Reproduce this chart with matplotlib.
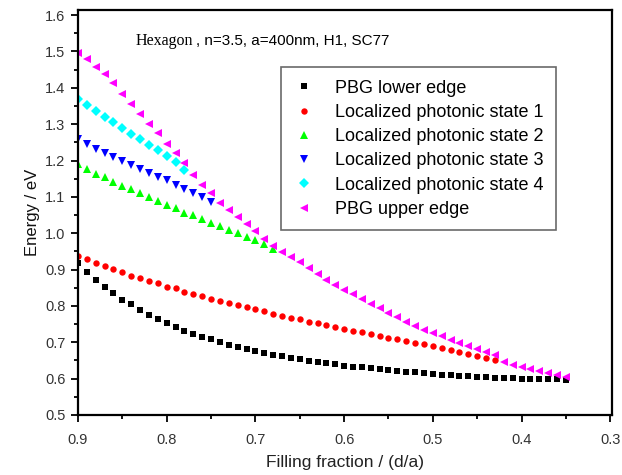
import matplotlib
matplotlib.use('Agg')
import matplotlib.pyplot as plt
from matplotlib.ticker import MultipleLocator, FormatStrFormatter

# Filling fraction d/a (0.01 steps)
filling = [0.90, 0.89, 0.88, 0.87, 0.86, 0.85, 0.84, 0.83, 0.82, 0.81,
           0.80, 0.79, 0.78, 0.77, 0.76, 0.75, 0.74, 0.73, 0.72, 0.71,
           0.70, 0.69, 0.68, 0.67, 0.66, 0.65, 0.64, 0.63, 0.62, 0.61,
           0.60, 0.59, 0.58, 0.57, 0.56, 0.55, 0.54, 0.53, 0.52, 0.51,
           0.50, 0.49, 0.48, 0.47, 0.46, 0.45, 0.44, 0.43, 0.42, 0.41,
           0.40, 0.39, 0.38, 0.37, 0.36, 0.35]

# Energy values (eV)
pbg_lower = [0.918, 0.892, 0.871, 0.853, 0.835, 0.817, 0.804, 0.788, 0.774, 0.763,
             0.752, 0.741, 0.732, 0.724, 0.715, 0.708, 0.700, 0.693, 0.688, 0.681,
             0.675, 0.670, 0.666, 0.662, 0.658, 0.654, 0.649, 0.645, 0.642, 0.639,
             0.636, 0.633, 0.631, 0.628, 0.626, 0.623, 0.621, 0.619, 0.617, 0.615,
             0.613, 0.611, 0.610, 0.608, 0.607, 0.605, 0.604, 0.603, 0.602, 0.601,
             0.600, 0.599, 0.599, 0.598, 0.598, 0.597]

state1 = [0.937, 0.929, 0.917, 0.910, 0.901, 0.892, 0.883, 0.876, 0.869, 0.862,
          0.853, 0.848, 0.839, 0.833, 0.827, 0.820, 0.813, 0.807, 0.802, 0.796,
          0.791, 0.785, 0.779, 0.773, 0.768, 0.763, 0.757, 0.753, 0.747, 0.742,
          0.737, 0.732, 0.727, 0.722, 0.717, 0.713, 0.708, 0.703, 0.698, 0.694,
          0.690, 0.684, 0.679, 0.674, 0.668, 0.662, 0.657, 0.651]

state2 = [1.190, 1.178, 1.163, 1.154, 1.142, 1.131, 1.121, 1.110, 1.100, 1.088,
          1.079, 1.070, 1.057, 1.050, 1.038, 1.029, 1.020, 1.009, 1.000, 0.990,
          0.981, 0.969, 0.956]

state3 = [1.259, 1.245, 1.231, 1.221, 1.211, 1.200, 1.187, 1.176, 1.166, 1.154,
          1.146, 1.134, 1.123, 1.111, 1.099, 1.086]

state4 = [1.369, 1.353, 1.337, 1.321, 1.305, 1.290, 1.274, 1.260, 1.244, 1.229,
          1.213, 1.196, 1.174]

pbg_upper = [1.497, 1.478, 1.458, 1.437, 1.412, 1.383, 1.356, 1.328, 1.300, 1.275,
             1.245, 1.221, 1.194, 1.160, 1.133, 1.111, 1.082, 1.064, 1.045, 1.025,
             1.005, 0.985, 0.966, 0.948, 0.935, 0.920, 0.904, 0.888, 0.872, 0.858,
             0.845, 0.832, 0.818, 0.806, 0.794, 0.781, 0.769, 0.756, 0.744, 0.733,
             0.725, 0.716, 0.707, 0.698, 0.690, 0.681, 0.673, 0.665, 0.645, 0.637,
             0.632, 0.626, 0.621, 0.615, 0.610, 0.604]

series = [
    (pbg_lower, 'PBG lower edge', 's', 'black', 4.4),
    (state1, 'Localized photonic state 1', 'o', 'red', 4.6),
    (state2, 'Localized photonic state 2', '^', '#00ff00', 6.4),
    (state3, 'Localized photonic state 3', 'v', 'blue', 6.4),
    (state4, 'Localized photonic state 4', 'D', 'cyan', 5.2),
    (pbg_upper, 'PBG upper edge', '<', 'magenta', 6.4),
]

plt.rcParams['font.family'] = ['Liberation Sans', 'DejaVu Sans']

fig = plt.figure(figsize=(6.22, 4.75), dpi=100)
ax = fig.add_axes([78 / 622, 1 - 415 / 475, 534 / 622, 405 / 475])

for vals, label, marker, color, ms in series:
    ax.plot(filling[:len(vals)], vals, linestyle='none', marker=marker,
            color=color, markersize=ms, markeredgewidth=0, label=label)

ax.set_xlim(0.9, 0.298)
ax.set_ylim(0.5, 1.614)
ax.xaxis.set_major_locator(MultipleLocator(0.1))
ax.xaxis.set_minor_locator(MultipleLocator(0.05))
ax.yaxis.set_major_locator(MultipleLocator(0.1))
ax.yaxis.set_minor_locator(MultipleLocator(0.05))
ax.xaxis.set_major_formatter(FormatStrFormatter('%.1f'))
ax.yaxis.set_major_formatter(FormatStrFormatter('%.1f'))
ax.tick_params(which='both', direction='out', width=1.3, colors='black',
               labelcolor='#333333', labelsize=10.5)
ax.tick_params(which='major', length=5, pad=4)
ax.tick_params(axis='x', which='major', pad=8)
ax.tick_params(which='minor', length=3)
for sp in ax.spines.values():
    sp.set_linewidth(1.6)

ax.set_xlabel('Filling fraction / (d/a)', fontsize=12.5, color='#222222', labelpad=6)
ax.set_ylabel('Energy / eV', fontsize=12, color='#111111', labelpad=4)

ax.text(136, 475 - 45, 'Hexagon', transform=None, fontsize=11.5,
        family='Liberation Serif', va='baseline')
ax.text(196, 475 - 45, ', n=3.5, a=400nm, H1, SC77', transform=None, fontsize=11,
        va='baseline')

leg = ax.legend(loc='upper left', bbox_to_anchor=(0.38, 0.859), fontsize=13,
                frameon=True, fancybox=False, edgecolor='#444444',
                borderpad=0.7, labelspacing=0.4, handletextpad=1.1,
                handlelength=1.2, borderaxespad=0)
leg.get_frame().set_linewidth(1.2)

fig.savefig('out.png', dpi=100)
